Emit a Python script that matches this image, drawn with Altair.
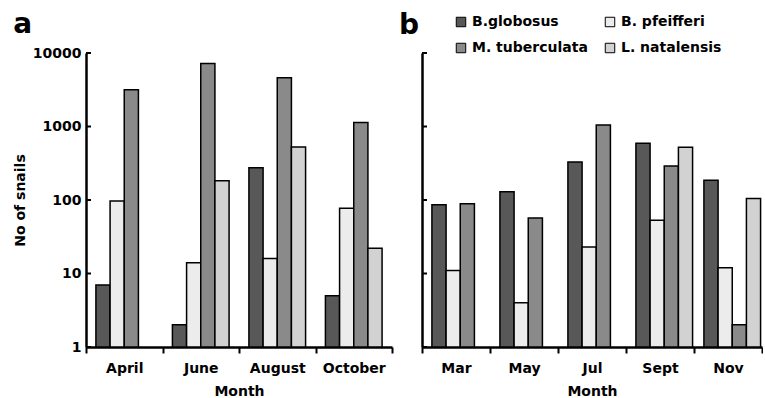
import altair as alt
import pandas as pd

species = ["B.globosus", "B. pfeifferi", "M. tuberculata", "L. natalensis"]
colors = ["#585858", "#ececec", "#8a8a8a", "#d2d2d2"]

months_a = ["April", "June", "August", "October"]
a_globosus = [7, 2, 275, 5]
a_pfeifferi = [97, 14, 16, 77]
a_tuberculata = [3150, 7200, 4600, 1130]
a_natalensis = [None, 183, 525, 22]

months_b = ["Mar", "May", "Jul", "Sept", "Nov"]
b_globosus = [86, 130, 330, 590, 185]
b_pfeifferi = [11, 4, 23, 53, 12]
b_tuberculata = [89, 57, 1050, 290, 2]
b_natalensis = [None, None, None, 520, 105]

y_ticks = [1, 10, 100, 1000, 10000]

FONT = "DejaVu Sans"


def build(months, series):
    rows = []
    for sp, vals in zip(species, series):
        for m, v in zip(months, vals):
            if v is not None:
                rows.append({"month": m, "species": sp, "value": v})
    return pd.DataFrame(rows)


def panel(months, series, width, label, first, legend, title_dx, title_offset):
    df = build(months, series)
    if first:
        yaxis = alt.Axis(values=y_ticks, format="d", title="No of snails", ticks=False,
                         labelPadding=5, titlePadding=5)
    else:
        yaxis = alt.Axis(values=y_ticks, labels=False, ticks=False, title=None)
    bars = alt.Chart(df).mark_bar(stroke="black", strokeWidth=1.5).encode(
        x=alt.X("month:N", sort=months,
                scale=alt.Scale(domain=months, paddingInner=0, paddingOuter=0),
                axis=alt.Axis(title="Month", tickBand="extent", tickSize=6,
                              labelPadding=8, titlePadding=9, labelAngle=0)),
        xOffset=alt.XOffset("species:N", sort=species,
                            scale=alt.Scale(domain=species, paddingInner=0, paddingOuter=0.7)),
        y=alt.Y("value:Q", scale=alt.Scale(type="log", domain=[1, 10000]), axis=yaxis),
        y2=alt.Y2(datum=1),
        color=alt.Color("species:N", sort=species,
                        scale=alt.Scale(domain=species, range=colors), legend=legend),
    )
    ticks = alt.Chart(pd.DataFrame({"t": y_ticks})).mark_rule(color="black", strokeWidth=2).encode(
        y=alt.Y("t:Q"),
        x=alt.value(0),
        x2=alt.value(5),
    )
    return alt.layer(bars, ticks).properties(
        width=width, height=294,
        title=alt.TitleParams(label, anchor="start", fontSize=28, font=FONT,
                              fontWeight="bold", color="black", dx=title_dx,
                              offset=title_offset),
    )


legend_b = alt.Legend(title=None, orient="none", legendX=32, legendY=-38, columns=2,
                      direction="horizontal",
                      columnPadding=15, rowPadding=12, symbolType="square", symbolSize=90,
                      symbolStrokeColor="black", symbolStrokeWidth=1,
                      labelFont=FONT, labelFontWeight="bold", labelFontSize=14,
                      labelColor="black", labelOffset=4)

pa = panel(months_a, [a_globosus, a_pfeifferi, a_tuberculata, a_natalensis], 306, "a", True,
           None, 0, 7)
pb = panel(months_b, [b_globosus, b_pfeifferi, b_tuberculata, b_natalensis], 340, "b", False,
           legend_b, -22, -25)

chart = alt.hconcat(pa, pb, spacing=30, bounds="flush").resolve_scale(
    color="shared").resolve_legend(color="independent").properties(
    padding={"left": 13, "top": 11, "right": 0, "bottom": 0}
).configure_view(stroke=None).configure_axis(
    labelFont=FONT, labelFontWeight="bold", labelFontSize=14, labelColor="black",
    titleFont=FONT, titleFontWeight="bold", titleFontSize=14, titleColor="black",
    domainColor="black", domainWidth=2.5, tickColor="black", tickWidth=2, grid=False,
)

chart.save("out.html", embed_options={"renderer": "svg", "actions": False})
